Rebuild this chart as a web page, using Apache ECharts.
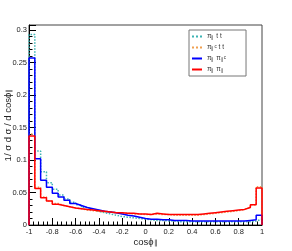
<!DOCTYPE html>
<html>
<head>
<meta charset="utf-8">
<script src="https://cdn.jsdelivr.net/npm/echarts@6/dist/echarts.min.js"></script>
<style>
html,body{margin:0;padding:0;background:#fff;}
#c{width:292px;height:251px;}
</style>
</head>
<body>
<div id="c"></div>
<script>
// Histogram binning: 40 bins from -1 to 1
const binLow = -1;
const binWidth = 0.05;

// pi_par t t (cyan dotted)
const piTT = [0.293, 0.114, 0.082, 0.065, 0.055, 0.046, 0.040, 0.035, 0.031, 0.027,
  0.024, 0.021, 0.019, 0.017, 0.015, 0.013, 0.012, 0.011, 0.010, 0.009,
  0.008, 0.007, 0.007, 0.006, 0.006, 0.005, 0.005, 0.005, 0.005, 0.005,
  0.005, 0.005, 0.005, 0.005, 0.005, 0.005, 0.005, 0.005, 0.006, 0.009];
// pi_par^c t t (orange dotted)
const piCTT = [0.140, 0.058, 0.043, 0.037, 0.033, 0.030, 0.028, 0.026, 0.025, 0.023,
  0.022, 0.021, 0.020, 0.020, 0.019, 0.018, 0.018, 0.017, 0.017, 0.016,
  0.016, 0.017, 0.016, 0.016, 0.015, 0.015, 0.015, 0.015, 0.015, 0.016,
  0.017, 0.018, 0.019, 0.020, 0.021, 0.022, 0.024, 0.027, 0.031, 0.059];
// pi_par pi_par^c (blue)
const piPiC = [0.257, 0.102, 0.069, 0.058, 0.049, 0.043, 0.038, 0.033, 0.030, 0.027,
  0.025, 0.023, 0.021, 0.020, 0.019, 0.017, 0.015, 0.014, 0.012, 0.010,
  0.009, 0.009, 0.008, 0.008, 0.007, 0.007, 0.007, 0.006, 0.006, 0.006,
  0.006, 0.006, 0.006, 0.006, 0.006, 0.006, 0.006, 0.007, 0.008, 0.015];
// pi_par pi_par (red)
const piPi = [0.137, 0.056, 0.042, 0.037, 0.032, 0.030, 0.028, 0.026, 0.025, 0.024,
  0.023, 0.022, 0.021, 0.020, 0.019, 0.019, 0.018, 0.018, 0.017, 0.017,
  0.016, 0.018, 0.017, 0.016, 0.016, 0.016, 0.016, 0.016, 0.016, 0.017,
  0.018, 0.019, 0.020, 0.021, 0.022, 0.023, 0.024, 0.027, 0.031, 0.057];

const legendLabels = {
  a: 'π{s|∥} t t',
  b: 'π{s|∥}{p|c} t t',
  c: 'π{s|∥} π{s|∥}{p|c}',
  d: 'π{s|∥} π{s|∥}'
};

function histData(vals) {
  const d = [[binLow, 0]];
  vals.forEach((v, i) => d.push([binLow + i * binWidth, v]));
  const hi = binLow + vals.length * binWidth;
  d.push([hi, vals[vals.length - 1]]);
  d.push([hi, 0]);
  return d;
}

function mk(name, vals, color, type, width) {
  return {
    name: name, type: 'line', step: 'end', data: histData(vals),
    symbol: 'none', showSymbol: false, animation: false,
    lineStyle: { color: color, width: width, type: type },
    itemStyle: { color: color }
  };
}

const font = 'Liberation Sans, Arial, sans-serif';
const subRich = { s: { fontSize: 6.5, verticalAlign: 'bottom', lineHeight: 6, fontFamily: font, color: '#222' } };
const chart = echarts.init(document.getElementById('c'));
chart.setOption({
  animation: false,
  backgroundColor: '#fff',
  grid: { left: 29, right: 30, top: 25, bottom: 26, containLabel: false, outerBoundsMode: 'none', show: true, borderColor: '#444', borderWidth: 1, backgroundColor: 'transparent' },
  xAxis: {
    type: 'value', min: -1, max: 1, interval: 0.2,
    axisLine: { onZero: false, lineStyle: { color: '#000', width: 1 } },
    axisTick: { inside: true, length: 7, lineStyle: { color: '#000' } },
    minorTick: { show: true, splitNumber: 5, length: 3.5, lineStyle: { color: '#000' } },
    splitLine: { show: false },
    axisLabel: { fontFamily: font, fontSize: 7.5, color: '#222', margin: 3 },
    name: 'cosϕ{s|∥}', nameLocation: 'middle', nameGap: 12, nameMoveOverlap: false,
    nameTextStyle: { fontFamily: font, fontSize: 9.5, color: '#222', rich: subRich }
  },
  yAxis: {
    type: 'value', min: 0, max: 0.3077, interval: 0.05,
    axisLine: { show: true, onZero: false, lineStyle: { color: '#000', width: 1 } },
    axisTick: { show: true, inside: true, length: 7, lineStyle: { color: '#000' } },
    minorTick: { show: true, splitNumber: 5, length: 3.5, lineStyle: { color: '#000' } },
    splitLine: { show: false },
    axisLabel: { fontFamily: font, fontSize: 7.5, color: '#222', margin: 2, showMaxLabel: false },
    name: '1/ σ d σ / d cosϕ{s|∥}', nameLocation: 'middle', nameGap: 16, nameMoveOverlap: false,
    nameTextStyle: { fontFamily: font, fontSize: 9.5, color: '#222', rich: subRich }
  },
  legend: {
    orient: 'vertical', left: 189, top: 30,
    itemWidth: 10, itemHeight: 8, itemGap: 4,
    backgroundColor: '#fff', borderColor: '#777', borderWidth: 1,
    padding: [3, 20, 3, 2],
    itemStyle: { opacity: 0 },
    formatter: function (n) { return legendLabels[n]; },
    textStyle: {
      fontFamily: font, fontSize: 6.5, color: '#333',
      rich: {
        s: { fontSize: 4.5, verticalAlign: 'bottom', lineHeight: 4, fontFamily: font, color: '#333' },
        p: { fontSize: 4.5, verticalAlign: 'top', lineHeight: 4, fontFamily: font, color: '#333' }
      }
    },
    data: ['a', 'b', 'c', 'd']
  },
  series: [
    mk('a', piTT, '#3cb4b4', 'dotted', 1.5),
    mk('b', piCTT, '#f0a050', 'dotted', 1.5),
    mk('c', piPiC, '#0000ff', 'solid', 1.5),
    mk('d', piPi, '#ff0000', 'solid', 1.5)
  ]
});
</script>
</body>
</html>
